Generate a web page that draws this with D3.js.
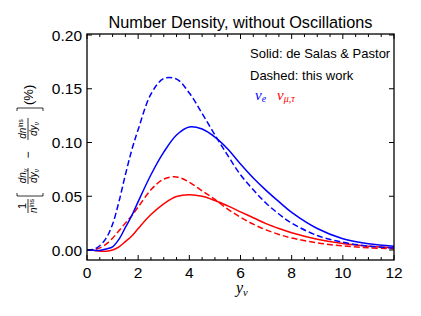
<!DOCTYPE html>
<html>
<head>
<meta charset="utf-8">
<script src="https://cdn.jsdelivr.net/npm/d3@7"></script>
<style>
  body { margin: 0; background: #fff; }
  svg { font-family: "Liberation Sans", Arial, sans-serif; }
</style>
</head>
<body>
<svg id="chart"></svg>
<script>
// y_nu sample points
var yNu = [0, 0.25, 0.5, 0.75, 1, 1.25, 1.5, 1.75, 2, 2.5, 3, 3.5, 4, 4.5, 5, 5.5, 6, 6.5, 7, 7.5, 8, 9, 10, 11, 12]

// nu_e: solid (de Salas & Pastor), dashed (this work)
var eSolid  = [0, -0.0003, -0.0005, 0.001, 0.003, 0.010, 0.021, 0.032, 0.045, 0.070, 0.091, 0.107, 0.1145, 0.1125, 0.105, 0.094, 0.080, 0.067, 0.0555, 0.045, 0.035, 0.020, 0.0105, 0.0058, 0.0035]
var eDashed = [0, 0.0005, 0.004, 0.011, 0.024, 0.045, 0.070, 0.093, 0.112, 0.145, 0.1595, 0.159, 0.146, 0.127, 0.107, 0.088, 0.070, 0.056, 0.0435, 0.0335, 0.025, 0.0135, 0.0072, 0.0036, 0.0018]

// nu_mu,tau
var mtSolid  = [0, -0.0003, -0.001, -0.0012, 0, 0.003, 0.0078, 0.013, 0.020, 0.033, 0.043, 0.0497, 0.0515, 0.050, 0.046, 0.041, 0.0355, 0.030, 0.0245, 0.020, 0.016, 0.010, 0.006, 0.0036, 0.0022]
var mtDashed = [0, 0.0003, 0.002, 0.0055, 0.011, 0.018, 0.025, 0.032, 0.040, 0.056, 0.066, 0.068, 0.063, 0.055, 0.047, 0.038, 0.0305, 0.024, 0.0187, 0.0145, 0.0112, 0.0066, 0.0038, 0.0021, 0.0012]

var xTicks = [0, 2, 4, 6, 8, 10, 12]
var yTicks = [0, 0.05, 0.10, 0.15, 0.20]

var W = 421, H = 316
var pl = 87, pr = 394, pt = 34, pb = 260

var svg = d3.select('#chart').attr('width', W).attr('height', H)

var x = d3.scaleLinear().domain([0, 12]).range([pl, pr])
var y = d3.scaleLinear().domain([-0.0093, 0.2]).range([pb, pt + 1])

var line = d3.line()
  .x(d => x(d[0]))
  .y(d => y(d[1]))
  .curve(d3.curveCatmullRom.alpha(0.5))

var series = [
  {vals: mtSolid, color: '#ff0000', dash: null},
  {vals: mtDashed, color: '#ff0000', dash: '6,3'},
  {vals: eSolid, color: '#0000ff', dash: null},
  {vals: eDashed, color: '#0000ff', dash: '6,3'}
]

svg.append('defs').append('clipPath').attr('id', 'clip')
  .append('rect').attr('x', pl).attr('y', pt).attr('width', pr - pl).attr('height', pb - pt)

svg.append('g').attr('clip-path', 'url(#clip)')
  .selectAll('path')
  .data(series)
  .enter()
  .append('path')
    .attr('d', s => line(yNu.map((v, i) => [v, s.vals[i]])))
    .attr('fill', 'none')
    .attr('stroke', s => s.color)
    .attr('stroke-width', 1.5)
    .attr('stroke-dasharray', s => s.dash)

// ticks (inward, all four sides)
var xMinor = d3.range(0, 12.01, 0.5)
var ax = svg.append('g').attr('stroke', '#000').attr('stroke-width', 1)
xMinor.forEach(t => {
  var len = (t % 2 == 0) ? 5 : 3
  ax.append('line').attr('x1', x(t)).attr('x2', x(t)).attr('y1', pb).attr('y2', pb - len)
  ax.append('line').attr('x1', x(t)).attr('x2', x(t)).attr('y1', pt).attr('y2', pt + len)
})
yTicks.forEach(t => {
  ax.append('line').attr('x1', pl).attr('x2', pl + 5).attr('y1', y(t)).attr('y2', y(t))
  ax.append('line').attr('x1', pr).attr('x2', pr - 5).attr('y1', y(t)).attr('y2', y(t))
})

// frame
svg.append('rect')
  .attr('x', pl).attr('y', pt)
  .attr('width', pr - pl).attr('height', pb - pt)
  .attr('fill', 'none').attr('stroke', '#000').attr('stroke-width', 1.3)

// tick labels
svg.selectAll('.xlab').data(xTicks).enter().append('text')
  .attr('x', d => x(d)).attr('y', 278)
  .attr('text-anchor', 'middle').attr('font-size', 15.5)
  .text(d => d)

svg.selectAll('.ylab').data(yTicks).enter().append('text')
  .attr('x', 82).attr('y', d => y(d) + 5.5)
  .attr('text-anchor', 'end').attr('font-size', 15.5)
  .text(d => d.toFixed(2))

// title
svg.append('text')
  .attr('x', (pl + pr) / 2).attr('y', 28)
  .attr('text-anchor', 'middle').attr('font-size', 16.3)
  .text('Number Density, without Oscillations')

// x label
var xl = svg.append('text')
  .attr('x', 236).attr('y', 293)
  .attr('font-family', '"Liberation Serif", serif')
  .attr('font-style', 'italic').attr('font-size', 16)
xl.append('tspan').text('y')
xl.append('tspan').attr('font-size', 10.5).attr('dy', 2.5).text('ν')

// legend text
svg.append('text').attr('x', 250).attr('y', 58).attr('font-size', 13).text('Solid: de Salas & Pastor')
svg.append('text').attr('x', 250).attr('y', 80).attr('font-size', 13).text('Dashed: this work')

var le = svg.append('text').attr('x', 255).attr('y', 100)
  .attr('font-family', '"Liberation Serif", serif').attr('font-style', 'italic')
  .attr('font-size', 15).attr('fill', '#0000ff')
le.append('tspan').text('ν')
le.append('tspan').attr('font-size', 10).attr('dy', 2).text('e')

var lm = svg.append('text').attr('x', 277).attr('y', 100)
  .attr('font-family', '"Liberation Serif", serif').attr('font-style', 'italic')
  .attr('font-size', 15).attr('fill', '#ff0000')
lm.append('tspan').text('ν')
lm.append('tspan').attr('font-size', 10).attr('dy', 2).text('μ,τ')

// y label: 1/n^ins [dn/dy - dn^ins/dy] (%), rotated
var yl = svg.append('g').attr('transform', 'translate(28,146) rotate(-90)')
  .attr('font-size', 10)

function frac(g, cx, w, num, den) {
  g.append('line').attr('x1', cx - w / 2).attr('x2', cx + w / 2).attr('y1', 0).attr('y2', 0)
    .attr('stroke', '#000').attr('stroke-width', 0.8)
  var n = g.append('text').attr('x', cx).attr('y', -2.5).attr('text-anchor', 'middle')
  num(n)
  var d = g.append('text').attr('x', cx).attr('y', 9).attr('text-anchor', 'middle')
  den(d)
}

function it(t, s) { return t.append('tspan').attr('font-style', 'italic').text(s) }
function sub(t, s) { return t.append('tspan').attr('font-size', 6.5).attr('font-style', 'italic').attr('baseline-shift', '-25%').text(s) }
function sup(t, s) { return t.append('tspan').attr('font-size', 6.5).attr('baseline-shift', '45%').text(s) }

// 1 / n_nu^ins
frac(yl, -60, 14, t => t.attr('font-size', 11).text('1'), t => { it(t, 'n'); sup(t, 'ins') })

// brackets
yl.append('path').attr('d', 'M -47,-11 L -50,-11 L -50,15 L -47,15').attr('fill', 'none').attr('stroke', '#000').attr('stroke-width', 0.8)
yl.append('path').attr('d', 'M 35,-11 L 38,-11 L 38,15 L 35,15').attr('fill', 'none').attr('stroke', '#000').attr('stroke-width', 0.8)

// dn/dy
frac(yl, -30, 16, t => { it(t, 'dn'); sub(t, 'ν') }, t => { it(t, 'dy'); sub(t, 'ν') })

yl.append('text').attr('x', -9).attr('y', 4).attr('text-anchor', 'middle').attr('font-size', 12).text('−')

// dn^ins/dy
frac(yl, 17, 22, t => { it(t, 'dn'); sup(t, 'ins') }, t => { it(t, 'dy'); sub(t, 'ν') })

yl.append('text').attr('x', 41).attr('y', 4.5).attr('font-size', 13).text('(%)')
</script>
</body>
</html>
